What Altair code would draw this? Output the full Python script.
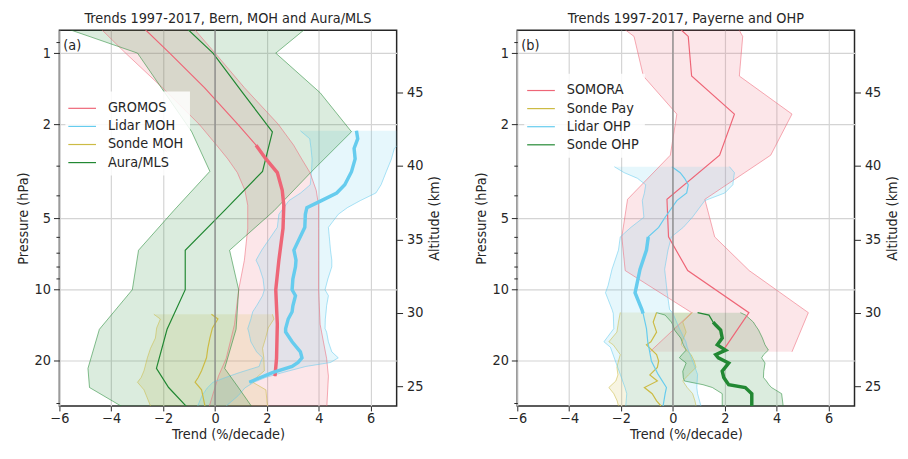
import altair as alt
import numpy as np
import pandas as pd

FONT = "DejaVu Sans Condensed, DejaVu Sans"
FS = 14.5
RED, CYAN, YELLOW, GREEN = "#EE6677", "#66CCEE", "#CCBB44", "#228833"
INK = "#262626"

P_TOP, P_BOT = 0.8, 31.0
ALT_TOP, ALT_BOT = 49.25, 23.65
P_TICKS = [0.9, 1, 2, 3, 4, 5, 6, 7, 8, 9, 10, 20, 30]
ALT_TICKS = [25, 30, 35, 40, 45]
X_TICKS = [-6, -4, -2, 0, 2, 4, 6]

# ---------------- panel (a): Bern, MOH and Aura/MLS ----------------
gromos_p = [0.78, 1.0, 1.4, 2.0, 2.45, 2.8, 3.2, 3.8, 4.4, 5.5, 7.5, 10, 14, 19.5, 23.2, 31]
gromos_mean = [-2.77, -1.75, -0.41, 0.88, 1.58, 1.96, 2.40, 2.59, 2.65, 2.62, 2.46, 2.34, 2.40, 2.37, 2.31, None]
gromos_lo = [-4.45, -3.45, -2.03, -0.61, 0.06, 0.49, 0.86, 1.15, 1.26, 1.26, 1.13, 0.91, 0.75, 0.43, 0.13, -0.22]
gromos_hi = [-0.85, 0.0, 1.13, 2.44, 3.03, 3.34, 3.66, 3.9, 3.99, 3.99, 3.99, 3.99, 4.05, 4.3, 4.37, 4.31]
gromos_sig = [2.45, 23.2]

lmoh_p = [2.13, 2.3, 2.53, 2.8, 3.17, 3.6, 3.9, 4.2, 4.5, 4.8, 5.45, 6.8, 7.5, 8.0, 9.0, 10, 10.6, 11.7,
          12.4, 13.3, 14.6, 15.1, 16.6, 18.3, 19.4, 20.3, 21.1, 22.4, 23.5, 24.6, 26, 28, 31]
lmoh_mean = [5.45, 5.5, 5.36, 5.4, 5.26, 5.0, 4.69, 4.1, 3.54, 3.48, 3.46, 3.04, 3.12, 3.1, 3.0, 2.97, 3.1, 3.0,
             2.97, 2.82, 2.72, 2.72, 2.97, 3.29, 3.35, 3.2, 2.97, 2.21, 1.75, 1.32, None, None, None]
lmoh_lo = [3.29, 3.65, 3.7, 3.74, 3.72, 3.67, 3.3, 2.85, 2.65, 2.46, 2.4, 1.8, 1.58, 1.7, 1.85, 1.9, 1.83, 1.6,
           1.45, 1.38, 1.26, 1.3, 1.38, 1.6, 1.83, 1.75, 1.70, 0.94, 0.4, -0.08, -0.3, -0.5, -0.67]
lmoh_hi = [7.6, 7.3, 6.91, 6.8, 6.6, 6.4, 6.2, 5.6, 5.1, 4.75, 4.37, 4.45, 4.5, 4.5, 4.35, 4.24, 4.37, 4.3,
           4.28, 4.25, 4.24, 4.3, 4.37, 4.5, 4.75, 4.45, 3.5, 2.6, 1.94, 1.5, 1.15, 0.9, 0.43]
lmoh_sig = [2.13, 24.6]

smoh_p = [12.7, 13.3, 14.5, 16, 17.7, 19.4, 22, 23.5, 24.6, 26.5, 31]
smoh_mean = [-0.14, 0.11, -0.1, -0.2, -0.28, -0.33, -0.52, -0.65, -0.77, -0.52, -0.39]
smoh_lo = [-2.36, -2.11, -2.25, -2.3, -2.49, -2.61, -2.74, -2.85, -2.99, -2.74, -2.49]
smoh_hi = [2.21, 2.27, 2.05, 1.95, 1.83, 1.88, 1.9, 1.6, 1.45, 1.96, 2.02]

mls_p = [0.68, 1.0, 1.47, 2.15, 3.16, 4.64, 6.81, 10, 14.7, 21.5, 25.9, 31.6]
mls_mean = [-1.7, -0.08, 1.06, 2.21, 1.83, 0.35, -1.15, -1.15, -1.85, -2.26, -1.79, -1.05]
mls_lo = [-7.4, -2.99, -1.94, -0.9, -0.2, -1.6, -2.95, -3.19, -4.46, -4.9, -4.84, -3.5]
mls_hi = [4.2, 2.34, 4.05, 5.26, 3.73, 2.27, 0.56, 0.91, 0.81, 0.37, 0.9, 1.45]

# ---------------- panel (b): Payerne and OHP ----------------
somora_p = [0.78, 0.85, 1.25, 1.81, 2.7, 4.15, 5.98, 8.3, 12.5, 18.3]
somora_mean = [0.22, 0.59, 0.72, 2.37, 1.8, -0.23, -0.17, 0.57, 2.93, 1.9]
somora_lo = [-1.95, -1.5, -1.14, 0.15, -0.1, -1.75, -1.97, -1.84, 0.72, -0.89]
somora_hi = [2.5, 2.69, 2.56, 4.59, 3.77, 1.23, 1.61, 2.94, 5.22, 4.59]

spay_p = [12.48, 13.7, 15.1, 16.6, 17.1, 18.8, 20.0, 21.3, 22.9, 24.3, 25.9, 27.5, 29.5, 31]
spay_mean = [-0.63, -0.76, -0.63, -0.85, -1.02, -0.63, -0.55, -0.6, -0.89, -0.6, -1.1, -0.8, -0.63, -0.46]
spay_lo = [-2.03, -2.1, -2.16, -2.47, -2.3, -2.03, -2.1, -2.16, -2.12, -2.2, -2.47, -2.28, -2.15, -2.1]
spay_hi = [0.76, 0.38, 0.51, 0.35, 0.32, 0.7, 0.82, 0.89, 0.6, 0.38, 0.55, 0.76, 0.85, 0.89]

lohp_p = [3.02, 3.2, 3.38, 3.6, 3.9, 4.2, 4.94, 5.45, 5.98, 6.8, 8.2, 9.6, 10.3, 12.1, 12.6, 14.6, 16.6,
          17.5, 20, 22.8, 25.9, 27.5, 31]
lohp_mean = [-0.04, 0.28, 0.45, 0.59, 0.53, 0.15, -0.3, -0.55, -0.95, -1.02, -1.27, -1.4, -1.46, -1.2, -1.15,
             -1.02, -0.97, -0.93, -0.83, -0.57, -0.25, -0.3, -0.38]
lohp_lo = [-2.26, -1.88, -1.37, -1.05, -1.1, -1.18, -1.12, -1.62, -2.03, -2.1, -2.35, -2.5, -2.6, -2.35, -2.3,
           -2.28, -2.66, -2.41, -2.22, -2.03, -1.85, -1.78, -1.82]
lohp_hi = [2.18, 2.37, 2.34, 2.31, 2.0, 1.23, 0.75, 0.40, -0.06, -0.19, -0.32, -0.25, -0.22, -0.13, 0.0, 0.25,
           0.5, 0.55, 0.76, 0.95, 0.92, 0.95, 1.08]
lohp_sig = [5.98, 12.6]

sohp_p = [12.5, 12.8, 13.7, 14.1, 14.8, 16.0, 17.1, 18.0, 18.8, 19.4, 20.4, 22.1, 23.5, 24.3, 25.2, 25.9, 27.5, 31]
sohp_mean = [0.95, 1.39, 1.55, 1.65, 1.84, 1.9, 1.71, 2.03, 1.65, 1.75, 2.15, 1.9, 1.96, 2.05, 2.15, 2.79, 3.04, 3.04]
sohp_lo = [-0.63, -0.3, -0.06, 0.0, 0.06, 0.3, 0.4, 0.51, 0.35, 0.25, 0.51, 0.38, 0.4, 0.44, 1.16, 1.52, 1.9, 1.9]
sohp_hi = [2.6, 2.8, 3.1, 3.17, 3.3, 3.45, 3.55, 3.68, 3.5, 3.42, 3.55, 3.5, 3.49, 3.6, 3.7, 3.8, 4.19, 4.25]
sohp_sig = [13.7, 31]


def rows(name, p, mean, lo, hi, sig=None):
    out = []
    for i in range(len(p)):
        m = mean[i]
        out.append(dict(
            series=name, p=p[i],
            mean=np.nan if m is None else m,
            lo=lo[i], hi=hi[i],
            sig=bool(sig is not None and m is not None and sig[0] <= p[i] <= sig[1]),
        ))
    return out


df_a = pd.DataFrame(
    rows("GROMOS", gromos_p, gromos_mean, gromos_lo, gromos_hi, gromos_sig)
    + rows("Lidar MOH", lmoh_p, lmoh_mean, lmoh_lo, lmoh_hi, lmoh_sig)
    + rows("Sonde MOH", smoh_p, smoh_mean, smoh_lo, smoh_hi)
    + rows("Aura/MLS", mls_p, mls_mean, mls_lo, mls_hi)
)
df_b = pd.DataFrame(
    rows("SOMORA", somora_p, somora_mean, somora_lo, somora_hi)
    + rows("Sonde Pay", spay_p, spay_mean, spay_lo, spay_hi)
    + rows("Lidar OHP", lohp_p, lohp_mean, lohp_lo, lohp_hi, lohp_sig)
    + rows("Sonde OHP", sohp_p, sohp_mean, sohp_lo, sohp_hi, sohp_sig)
)

MAJOR_TEST = "indexof([1,2,5,10,20], datum.value) >= 0"


def panel(df, names, colors, title, tag, leg_x, leg_y):
    xs = alt.Scale(domain=[-6, 7], nice=False, zero=False)

    def ys():
        return alt.Scale(type="log", domain=[P_TOP, P_BOT], reverse=True, nice=False, zero=False)

    xax = alt.Axis(values=X_TICKS, title="Trend (%/decade)", grid=True, tickSize=5,
                   labelPadding=1, titlePadding=2, labelFlush=False)
    yax = alt.Axis(values=P_TICKS, title="Pressure (hPa)", grid=True, labelOverlap=False,
                   labelFlush=False,
                   labelExpr=MAJOR_TEST + " ? '' + datum.value : ''",
                   gridOpacity={"condition": {"test": MAJOR_TEST, "value": 1}, "value": 0},
                   tickSize={"condition": {"test": MAJOR_TEST, "value": 6}, "value": 3.5},
                   labelPadding=3, titlePadding=4)

    # legend scale (stroke) and silent scales (fill / color) use differently ordered
    # domains so that Vega-Lite does not merge the hidden legends into the visible one
    sc = alt.Scale(domain=names, range=colors)
    sc_quiet = alt.Scale(domain=names[::-1], range=colors[::-1])
    base = alt.Chart(df)
    area = base.mark_area(orient="horizontal", opacity=0.16, clip=True).encode(
        y=alt.Y("p:Q", scale=ys(), axis=yax),
        x=alt.X("lo:Q", scale=xs, axis=xax),
        x2="hi:Q",
        fill=alt.Fill("series:N", scale=sc_quiet, legend=None),
    )
    edge_lo = base.mark_line(opacity=0.55, strokeWidth=1, clip=True).encode(
        y=alt.Y("p:Q", scale=ys(), axis=None),
        x=alt.X("lo:Q", scale=xs),
        color=alt.Color("series:N", scale=sc_quiet, legend=None),
        order=alt.Order("p:Q"),
    )
    edge_hi = base.mark_line(opacity=0.55, strokeWidth=1, clip=True).encode(
        y=alt.Y("p:Q", scale=ys(), axis=None),
        x=alt.X("hi:Q", scale=xs),
        color=alt.Color("series:N", scale=sc_quiet, legend=None),
        order=alt.Order("p:Q"),
    )
    mean = base.mark_line(strokeWidth=1.2, clip=True).encode(
        y=alt.Y("p:Q", scale=ys(), axis=None),
        x=alt.X("mean:Q", scale=xs),
        stroke=alt.Stroke("series:N", scale=sc, legend=alt.Legend(
            title=None, orient="none", legendX=leg_x, legendY=leg_y,
            symbolType="M-1.4,0L1.4,0", symbolSize=400, symbolStrokeWidth=1.2,
            labelFontSize=FS, labelFont=FONT, labelColor=INK, labelOffset=15,
            rowPadding=0.3, padding=6, fillColor="rgba(255,255,255,0.85)",
        )),
        order=alt.Order("p:Q"),
    )
    thick = base.transform_filter("datum.sig").mark_line(strokeWidth=3.5, clip=True).encode(
        y=alt.Y("p:Q", scale=ys(), axis=None),
        x=alt.X("mean:Q", scale=xs),
        color=alt.Color("series:N", scale=sc_quiet, legend=None),
        order=alt.Order("p:Q"),
    )
    zero = alt.Chart(pd.DataFrame({"v": [0]})).mark_rule(color="#8a8a8a", strokeWidth=1.3).encode(
        x=alt.X("v:Q", scale=xs)
    )
    lab = alt.Chart(pd.DataFrame({"x": [-5.85], "p": [0.93], "t": [tag]})).mark_text(
        align="left", baseline="middle", font=FONT, fontSize=FS, color=INK
    ).encode(
        x=alt.X("x:Q", scale=xs),
        y=alt.Y("p:Q", scale=ys(), axis=None),
        text="t:N",
    )
    altl = alt.Chart(pd.DataFrame({"alt": ALT_TICKS})).mark_point(opacity=0).encode(
        y=alt.Y("alt:Q", scale=alt.Scale(domain=[ALT_BOT, ALT_TOP], nice=False, zero=False),
                axis=alt.Axis(orient="right", values=ALT_TICKS, title="Altitude (km)", grid=False,
                              tickSize=6, labelPadding=4, titlePadding=5, titleAngle=270,
                              titleBaseline="top", labelFlush=False))
    )
    return alt.layer(area, edge_lo, edge_hi, mean, thick, zero, lab, altl).resolve_scale(
        y="independent"
    ).properties(
        width=341, height=380,
        title=alt.TitleParams(title, font=FONT, fontSize=FS, fontWeight="normal", color=INK,
                              anchor="middle", offset=3),
    )


left = panel(df_a, ["GROMOS", "Lidar MOH", "Sonde MOH", "Aura/MLS"], [RED, CYAN, YELLOW, GREEN],
             "Trends 1997-2017, Bern, MOH and Aura/MLS", "(a)", 6, 62)
right = panel(df_b, ["SOMORA", "Sonde Pay", "Lidar OHP", "Sonde OHP"], [RED, YELLOW, CYAN, GREEN],
              "Trends 1997-2017, Payerne and OHP", "(b)", 7, 44)

chart = alt.hconcat(left, right, spacing=30).resolve_scale(
    fill="independent", stroke="independent", color="independent", y="independent", x="independent"
).configure(
    padding={"left": 6, "top": 0, "right": 0, "bottom": 0}, background="white"
).configure_view(
    stroke=INK, strokeWidth=1.5
).configure_axis(
    labelFont=FONT, titleFont=FONT, labelFontSize=FS, titleFontSize=FS, labelColor=INK,
    titleColor=INK, titleFontWeight="normal", tickColor=INK, domain=False,
    gridColor="#d4d4d4", gridWidth=1.2,
)

chart.save("out.html", embed_options={"renderer": "svg", "actions": False})
